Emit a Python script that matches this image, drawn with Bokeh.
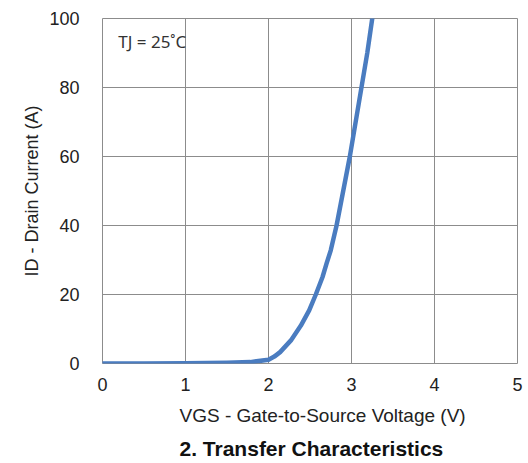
from bokeh.plotting import figure
from bokeh.models import Range1d, FixedTicker, Title
from bokeh.core.properties import value
from bokeh.embed import file_html
from bokeh.resources import INLINE

# data
vgs = [0.0, 0.5, 1.0, 1.5, 1.78, 2.0, 2.07, 2.14, 2.27, 2.39, 2.49, 2.57, 2.65, 2.7, 2.75, 2.82, 2.9, 2.98, 3.05, 3.12, 3.19, 3.25]
id_a = [0.0, 0.02, 0.08, 0.2, 0.4, 1.1, 2.0, 3.3, 6.7, 11.0, 15.4, 20.0, 25.0, 29.0, 32.8, 40.0, 50.0, 60.0, 70.0, 80.0, 90.0, 100.0]
x_ticks = [0, 1, 2, 3, 4, 5]
y_ticks = [0, 20, 40, 60, 80, 100]
note = ["TJ = 25\u02daC"]
note_x = [0.19]
note_y = [93.3]
x_label = "VGS - Gate-to-Source Voltage (V)"
y_label = "ID - Drain Current (A)"
chart_title = "2. Transfer Characteristics"

FONT = "Liberation Sans"
GRID = "#8c8c8c"

p = figure(width=526, height=463, output_backend="svg", toolbar_location=None,
           x_range=Range1d(0, 5), y_range=Range1d(0, 100),
           min_border_left=102, min_border_right=9, min_border_top=18, min_border_bottom=100)

p.line(vgs, id_a, line_color="#4a7cc0", line_width=4.5, line_join="round", line_cap="round")
p.text(x=note_x, y=note_y, text=note, text_font=value("Noto Sans"), text_font_size="17px",
       text_align="left", text_baseline="middle", text_color="#333333")

p.xaxis.ticker = FixedTicker(ticks=x_ticks)
p.yaxis.ticker = FixedTicker(ticks=y_ticks)
for ax in (p.xaxis[0], p.yaxis[0]):
    ax.axis_line_color = None
    ax.major_tick_line_color = None
    ax.minor_tick_line_color = None
    ax.major_tick_out = 0
    ax.major_tick_in = 0
    ax.major_label_text_font = FONT
    ax.major_label_text_font_size = "18px"
    ax.major_label_text_color = "#222222"
    ax.axis_label_text_font = FONT
    ax.axis_label_text_font_size = "18px"
    ax.axis_label_text_font_style = "normal"
    ax.axis_label_text_color = "#222222"

p.yaxis.axis_label = y_label
p.yaxis.major_label_standoff = 23
p.xaxis.major_label_standoff = 14
p.yaxis.axis_label_standoff = 4

p.xgrid.ticker = FixedTicker(ticks=x_ticks)
p.ygrid.ticker = FixedTicker(ticks=y_ticks)
p.grid.grid_line_color = GRID
p.grid.grid_line_width = 1
p.outline_line_color = GRID
p.outline_line_width = 1

t1 = Title(text=x_label, align="left", offset=77, text_font=FONT, standoff=18,
           text_font_size="19px", text_font_style="normal", text_color="#222222")
t2 = Title(text=chart_title, align="left", offset=77, text_font=FONT, standoff=0,
           text_font_size="21px", text_font_style="bold", text_color="#111111")
p.add_layout(t1, "below")
p.add_layout(t2, "below")

open("out.html", "w").write(file_html(p, INLINE))
